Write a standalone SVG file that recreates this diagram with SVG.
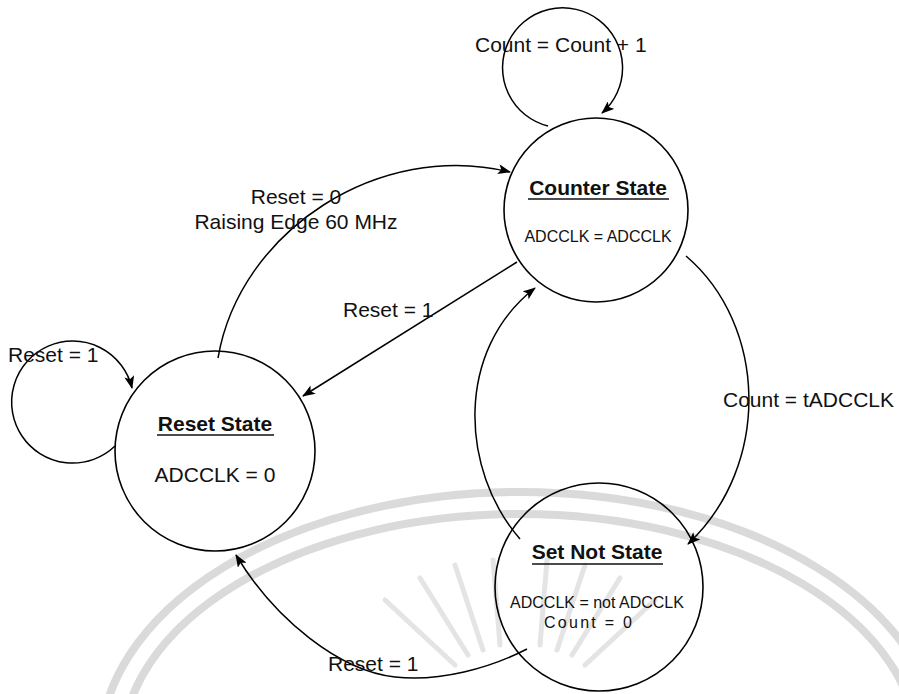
<svg xmlns="http://www.w3.org/2000/svg" width="899" height="694" viewBox="0 0 899 694">
<defs>
<marker id="arr" markerWidth="13" markerHeight="10" refX="12" refY="5" orient="auto" markerUnits="userSpaceOnUse">
<path d="M0,0 L13,5 L0,10 L3,5 Z" fill="#000"/>
</marker>
<style>
.node{fill:none;stroke:#000;stroke-width:1.6}
.edge{fill:none;stroke:#000;stroke-width:1.5}
.wm{fill:none;stroke:#dadada;stroke-width:8}
.ray{stroke:#e4e4e4;stroke-width:5;stroke-linecap:round}
.t{font-family:"Liberation Sans",Arial,sans-serif;fill:#111}
.title{font-size:21px;font-weight:bold;text-anchor:middle}
.sub{font-size:16px;text-anchor:middle}
.lbl{font-size:21px}
.ul{stroke:#111;stroke-width:1.6}
</style>
</defs>
<rect width="899" height="694" fill="#fff"/>
<g id="watermark">
<ellipse class="wm" cx="520" cy="750" rx="420" ry="258"/>
<ellipse class="wm" cx="520" cy="750" rx="398" ry="236"/>
<g class="ray">
<line x1="455" y1="665" x2="385" y2="600"/>
<line x1="468" y1="655" x2="420" y2="578"/>
<line x1="483" y1="650" x2="455" y2="565"/>
<line x1="500" y1="645" x2="493" y2="560"/>
<line x1="540" y1="645" x2="547" y2="560"/>
<line x1="557" y1="650" x2="585" y2="565"/>
<line x1="572" y1="655" x2="620" y2="578"/>
<line x1="585" y1="665" x2="655" y2="600"/>
</g>
</g>
<g id="connectors">
<path id="e-count-loop" class="edge" d="M548,126 A60,60 0 1 1 602,113" marker-end="url(#arr)"/>
<path id="e-reset-loop" class="edge" d="M115,446 A61,61 0 1 1 132,388" marker-end="url(#arr)"/>
<path id="e-reset-counter" class="edge" d="M218,358 C240,230 380,140 510,172" marker-end="url(#arr)"/>
<path id="e-counter-reset" class="edge" d="M517,262 L303,396" marker-end="url(#arr)"/>
<path id="e-counter-setnot" class="edge" d="M686,256 C767,325 772,465 688,544" marker-end="url(#arr)"/>
<path id="e-setnot-counter" class="edge" d="M520,539 C460,470 455,350 535,288" marker-end="url(#arr)"/>
<path id="e-setnot-reset" class="edge" d="M527,649 C490,668 440,682 395,677 C340,671 275,620 236,555" marker-end="url(#arr)"/>
</g>
<g id="labels" class="t">
<text class="lbl" x="475" y="52">Count = Count + 1</text>
<text class="lbl" x="296" y="204" text-anchor="middle">Reset = 0</text>
<text class="lbl" x="296" y="229" text-anchor="middle">Raising Edge 60 MHz</text>
<text class="lbl" x="343" y="317">Reset = 1</text>
<text class="lbl" x="8" y="362">Reset = 1</text>
<text class="lbl" x="723" y="407">Count = tADCCLK</text>
<text class="lbl" x="328" y="671">Reset = 1</text>
</g>
<g id="counter-state">
<circle class="node" cx="596" cy="210" r="92"/>
<text class="t title" x="598" y="195">Counter State</text>
<line class="ul" x1="528" y1="199" x2="669" y2="199"/>
<text class="t sub" x="598" y="242" font-size="15.5">ADCCLK = ADCCLK</text>
</g>
<g id="reset-state">
<circle class="node" cx="215" cy="451" r="100"/>
<text class="t title" x="215" y="431">Reset State</text>
<line class="ul" x1="157" y1="435" x2="274" y2="435"/>
<text class="t" x="215" y="482" font-size="21" text-anchor="middle">ADCCLK = 0</text>
</g>
<g id="set-not-state">
<circle class="node" cx="599" cy="587" r="104"/>
<text class="t title" x="597" y="559">Set Not State</text>
<line class="ul" x1="532" y1="564" x2="663" y2="564"/>
<text class="t sub" x="597" y="608">ADCCLK = not ADCCLK</text>
<text class="t sub" x="588" y="628" textLength="88" lengthAdjust="spacing">Count = 0</text>
</g>
</svg>
